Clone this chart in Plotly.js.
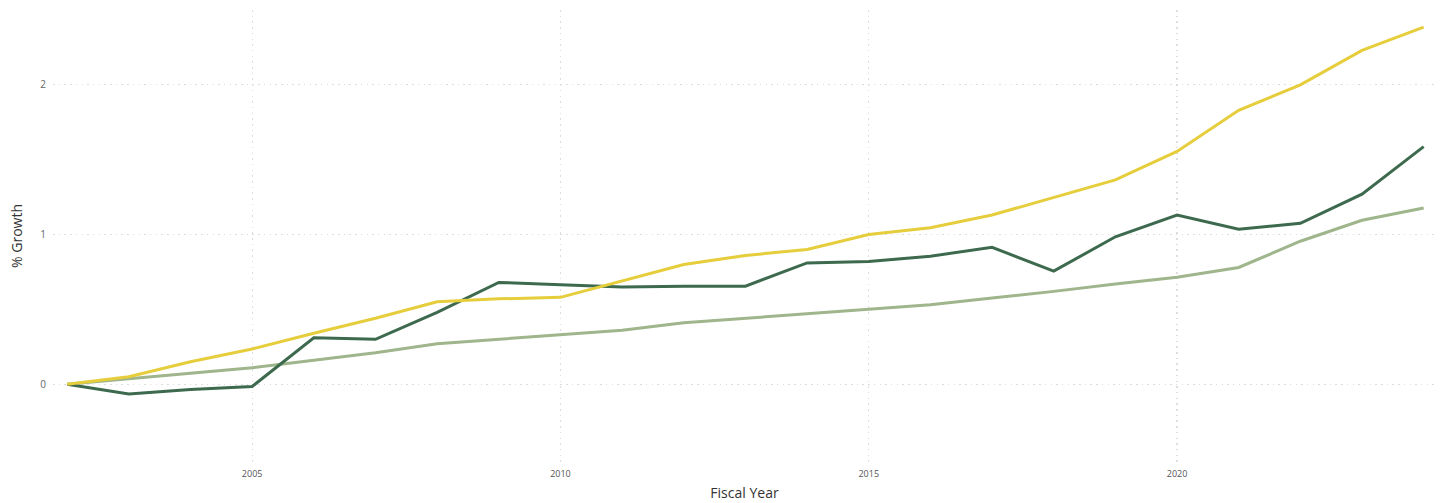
<!DOCTYPE html>
<html>
<head>
<meta charset="utf-8">
<script src="https://cdn.plot.ly/plotly-3.0.1.min.js"></script>
<style>
  html, body { margin: 0; padding: 0; background: #fff; }
  #chart { width: 1442px; height: 503px; }
</style>
</head>
<body>
<div id="chart"></div>
<script>
const years = [2002, 2003, 2004, 2005, 2006, 2007, 2008, 2009, 2010, 2011, 2012, 2013,
               2014, 2015, 2016, 2017, 2018, 2019, 2020, 2021, 2022, 2023, 2024];

const yellowSeries = [0, 0.05, 0.15, 0.235, 0.34, 0.44, 0.55, 0.57, 0.58, 0.69, 0.80, 0.86,
                      0.90, 1.00, 1.045, 1.13, 1.245, 1.365, 1.555, 1.83, 2.0, 2.23, 2.385];

const darkGreenSeries = [0, -0.065, -0.035, -0.015, 0.31, 0.30, 0.48, 0.68, 0.665, 0.65, 0.655, 0.655,
                         0.81, 0.82, 0.855, 0.915, 0.755, 0.985, 1.13, 1.035, 1.075, 1.27, 1.587];

const lightGreenSeries = [0, 0.035, 0.07, 0.11, 0.16, 0.21, 0.27, 0.30, 0.33, 0.36, 0.41, 0.44,
                          0.475, 0.50, 0.53, 0.575, 0.62, 0.67, 0.715, 0.78, 0.955, 1.095, 1.177];

const traces = [
  { x: years, y: lightGreenSeries, mode: 'lines', line: { color: '#9fb58c', width: 3 } },
  { x: years, y: darkGreenSeries, mode: 'lines', line: { color: '#3d6a4e', width: 3 } },
  { x: years, y: yellowSeries, mode: 'lines', line: { color: '#e6cd3c', width: 3 } }
];

const layout = {
  width: 1442, height: 503,
  margin: { l: 53, r: 6, t: 10, b: 41 },
  paper_bgcolor: '#ffffff', plot_bgcolor: '#ffffff',
  showlegend: false,
  font: { family: 'Open Sans, Noto Sans, sans-serif', color: '#666' },
  xaxis: {
    range: [2001.77, 2024.2],
    tick0: 2005, dtick: 5,
    showgrid: true, gridcolor: '#dddddd', griddash: '1.5px,4.2px', gridwidth: 1.3,
    zeroline: false, showline: false, ticks: '',
    ticklabelstandoff: 5,
    tickfont: { size: 9, color: '#555' },
    title: { text: 'Fiscal Year', font: { size: 14, color: '#333' }, standoff: 9 }
  },
  yaxis: {
    range: [-0.52, 2.5],
    tick0: 0, dtick: 1,
    showgrid: true, gridcolor: '#dddddd', griddash: '1.5px,4.2px', gridwidth: 1.3,
    zeroline: false, showline: false, ticks: '',
    ticklabelstandoff: 6,
    tickfont: { size: 10, color: '#666' },
    title: { text: '% Growth', font: { size: 14, color: '#333' }, standoff: 14 }
  }
};

Plotly.newPlot('chart', traces, layout, { displayModeBar: false, staticPlot: true });
</script>
</body>
</html>
